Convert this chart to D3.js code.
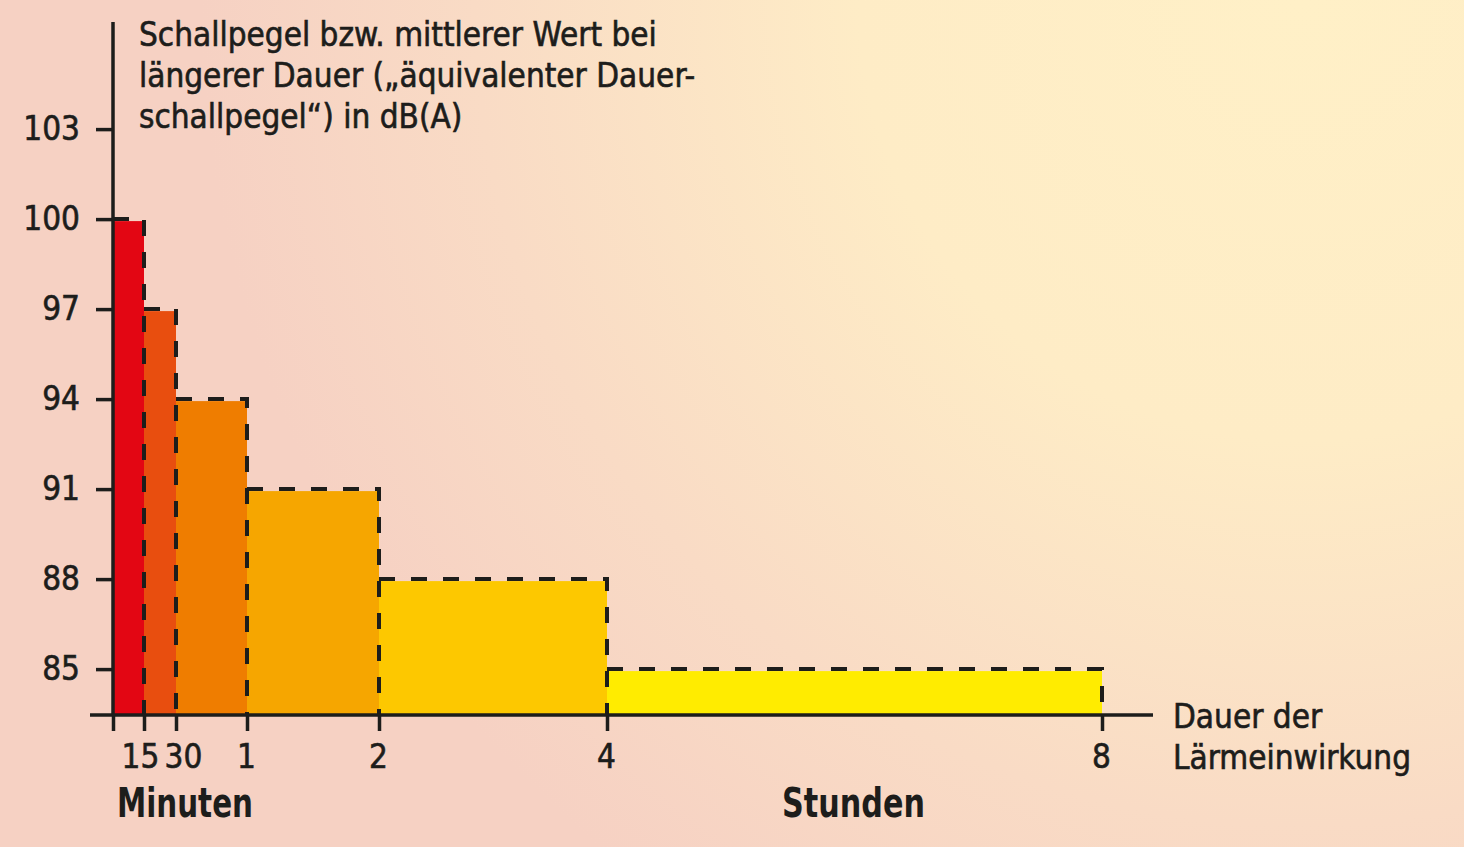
<!DOCTYPE html>
<html>
<head>
<meta charset="utf-8">
<script src="https://cdn.jsdelivr.net/npm/d3@7"></script>
<style>
  body { margin: 0; overflow: hidden; }
  text { font-family: "Liberation Sans Narrow", "DejaVu Sans Condensed", "Roboto Condensed", sans-serif; fill: #1d1d1b; }
  .reg { stroke: #1d1d1b; stroke-width: 0.6px; }
</style>
</head>
<body>
<div id="canvas"></div>
<script>
// exposure duration in hours (bar edges) and the level held over each span
var edges = [0, 0.25, 0.5, 1, 2, 4, 8];
var levels = [100, 97, 94, 91, 88, 85];
var barColors = ["#e30613", "#e84e0f", "#ef7d00", "#f6a600", "#fdc800", "#ffec00"];
var yTicks = [85, 88, 91, 94, 97, 100, 103];
var xTickLabels = ["", "15", "30", "1", "2", "4", "8"];
var titleLines = ["Schallpegel bzw. mittlerer Wert bei",
                  "längerer Dauer („äquivalenter Dauer-",
                  "schallpegel“) in dB(A)"];
var xTitleLines = ["Dauer der", "Lärmeinwirkung"];

const W = 1464, H = 847;
const ink = "#1d1d1b";

const svg = d3.select("#canvas")
  .append("svg")
    .attr("width", W)
    .attr("height", H);

// background
const defs = svg.append("defs");
const bg = defs.append("radialGradient")
    .attr("id", "bgglow")
    .attr("gradientUnits", "userSpaceOnUse")
    .attr("cx", 1300).attr("cy", 0).attr("r", 1100);
bg.append("stop").attr("offset", 0).attr("stop-color", "#fff0c7");
bg.append("stop").attr("offset", 0.4).attr("stop-color", "#feecc6");
bg.append("stop").attr("offset", 0.75).attr("stop-color", "#f9dbc5");
bg.append("stop").attr("offset", 1).attr("stop-color", "#f6d1c3");

svg.append("rect").attr("width", W).attr("height", H).attr("fill", "#f6d1c3");
svg.append("rect").attr("width", W).attr("height", H).attr("fill", "url(#bgglow)");

// scales: the original time axis is slightly stretched between 1 and 2 h
const x = d3.scaleLinear()
    .domain(edges)
    .range([113, 144, 176, 247, 379, 607, 1102]);

const y = d3.scaleLinear()
    .domain([83.47, 106.57])
    .range([715, 22]);

const base = y.range()[0];

// bars
const bars = levels.map(function(v, i) {
  return {x0: edges[i], x1: edges[i + 1], v: v, c: barColors[i]};
});

svg.append("g")
  .selectAll("rect")
  .data(bars)
  .enter()
  .append("rect")
    .attr("x", function(d) { return x(d.x0); })
    .attr("y", function(d) { return y(d.v) + 2; })
    .attr("width", function(d) { return x(d.x1) - x(d.x0); })
    .attr("height", function(d) { return base - y(d.v) - 2; })
    .attr("fill", function(d) { return d.c; });

// dashed outlines (top + right edge down to the axis)
svg.append("g")
  .selectAll("path")
  .data(bars)
  .enter()
  .append("path")
    .attr("d", function(d) {
      return "M" + x(d.x0) + "," + y(d.v) + "H" + x(d.x1) + "V" + base;
    })
    .attr("fill", "none")
    .attr("stroke", ink)
    .attr("stroke-width", 4)
    .attr("stroke-dasharray", "16,16");

// y axis
const yAxis = svg.append("g")
    .attr("transform", "translate(" + x(0) + ",0)")
    .call(d3.axisLeft(y).tickValues(yTicks).tickSize(17).tickPadding(16));
yAxis.select(".domain").remove();
yAxis.selectAll(".tick line").attr("stroke", ink).attr("stroke-width", 3.5);
yAxis.selectAll(".tick text").attr("font-size", 33).attr("fill", ink)
    .attr("class", "reg").style("font-family", null);

svg.append("line")
    .attr("x1", x(0)).attr("x2", x(0))
    .attr("y1", y.range()[1]).attr("y2", base)
    .attr("stroke", ink).attr("stroke-width", 3.5);

// x axis
const xAxis = svg.append("g")
    .attr("transform", "translate(0," + base + ")")
    .call(d3.axisBottom(x).tickValues(edges)
      .tickFormat(function(d, i) { return xTickLabels[i]; })
      .tickSize(16).tickPadding(14));
xAxis.select(".domain").remove();
xAxis.selectAll(".tick line").attr("stroke", ink).attr("stroke-width", 3.5);
xAxis.selectAll(".tick text").attr("font-size", 33).attr("fill", ink)
    .attr("class", "reg")
    .attr("dx", function(d, i) { return i === 1 ? -4 : (i === 2 ? 7 : -1); });

svg.append("line")
    .attr("x1", 90).attr("x2", 1153)
    .attr("y1", base).attr("y2", base)
    .attr("stroke", ink).attr("stroke-width", 3.5);

// unit labels under the time axis
svg.append("text")
    .attr("x", 117).attr("y", 817)
    .attr("font-size", 40).attr("font-weight", "bold")
    .attr("textLength", 136).attr("lengthAdjust", "spacingAndGlyphs")
    .text("Minuten");

svg.append("text")
    .attr("x", 782).attr("y", 817)
    .attr("font-size", 40).attr("font-weight", "bold")
    .attr("textLength", 143).attr("lengthAdjust", "spacingAndGlyphs")
    .text("Stunden");

// axis titles
svg.append("g")
  .selectAll("text")
  .data(titleLines)
  .enter()
  .append("text")
    .attr("class", "reg")
    .attr("x", 139)
    .attr("y", function(d, i) { return 46 + i * 41; })
    .attr("font-size", 33)
    .text(function(d) { return d; });

svg.append("g")
  .selectAll("text")
  .data(xTitleLines)
  .enter()
  .append("text")
    .attr("class", "reg")
    .attr("x", 1173)
    .attr("y", function(d, i) { return 728 + i * 41; })
    .attr("font-size", 33)
    .text(function(d) { return d; });
</script>
</body>
</html>
